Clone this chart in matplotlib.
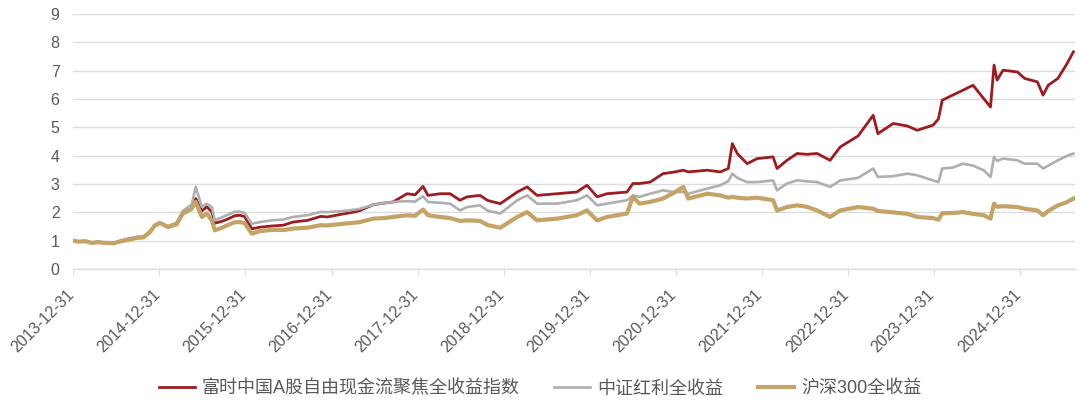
import pandas as pd
import matplotlib
matplotlib.use("Agg")
import matplotlib.pyplot as plt
import matplotlib.dates as mdates
import matplotlib.transforms as mtransforms

plt.rcParams['font.family'] = ['Liberation Sans', 'Noto Sans CJK SC', 'DejaVu Sans']

# values
dates = ["2013-12-31", "2014-01-20", "2014-02-20", "2014-03-20", "2014-04-15", "2014-05-05",
         "2014-06-20", "2014-07-16", "2014-08-20", "2014-09-26", "2014-10-25", "2014-11-20",
         "2014-12-11", "2015-01-02", "2015-02-05", "2015-03-14", "2015-04-09", "2015-05-17",
         "2015-06-03", "2015-06-29", "2015-07-20", "2015-08-10", "2015-08-23", "2015-09-20",
         "2015-10-13", "2015-11-15", "2015-12-07", "2015-12-28", "2016-01-27", "2016-03-03",
         "2016-04-20", "2016-06-10", "2016-07-20", "2016-09-20", "2016-11-15", "2016-12-12",
         "2017-02-20", "2017-04-10", "2017-05-01", "2017-06-25", "2017-08-10", "2017-09-18",
         "2017-11-16", "2017-12-20", "2018-01-23", "2018-02-13", "2018-04-05", "2018-05-18",
         "2018-06-29", "2018-07-29", "2018-09-22", "2018-10-25", "2018-12-17", "2019-02-27",
         "2019-04-10", "2019-05-22", "2019-08-15", "2019-11-07", "2019-12-20", "2020-02-01",
         "2020-03-14", "2020-06-07", "2020-07-02", "2020-07-30", "2020-09-13", "2020-11-07",
         "2020-12-20", "2021-02-01", "2021-02-22", "2021-05-14", "2021-07-08", "2021-08-11",
         "2021-08-28", "2021-09-18", "2021-10-30", "2021-12-11", "2022-02-17", "2022-03-06",
         "2022-04-17", "2022-05-30", "2022-07-10", "2022-08-23", "2022-10-17", "2022-11-29",
         "2023-02-13", "2023-04-18", "2023-05-08", "2023-07-12", "2023-09-10", "2023-10-22",
         "2023-12-28", "2024-01-20", "2024-02-05", "2024-03-20", "2024-05-02", "2024-06-15",
         "2024-07-30", "2024-08-28", "2024-09-12", "2024-09-25", "2024-10-20", "2024-12-20",
         "2025-01-20", "2025-03-15", "2025-04-08", "2025-04-30", "2025-06-10", "2025-07-15",
         "2025-08-15"]

ftse_fcf = [1.00, 0.97, 0.99, 0.93, 0.96, 0.94, 0.92, 0.99, 1.06, 1.12, 1.14, 1.30,
            1.52, 1.62, 1.48, 1.58, 1.95, 2.12, 2.49, 2.05, 2.20, 2.02, 1.62, 1.68,
            1.75, 1.88, 1.90, 1.85, 1.42, 1.48, 1.52, 1.55, 1.66, 1.72, 1.86, 1.84,
            1.95, 2.02, 2.07, 2.27, 2.33, 2.37, 2.66, 2.62, 2.92, 2.60, 2.66, 2.66,
            2.43, 2.55, 2.60, 2.42, 2.31, 2.72, 2.90, 2.60, 2.66, 2.72, 2.96, 2.55,
            2.66, 2.72, 3.02, 3.02, 3.07, 3.37, 3.42, 3.49, 3.43, 3.49, 3.43, 3.55,
            4.43, 4.08, 3.72, 3.90, 3.96, 3.55, 3.84, 4.08, 4.05, 4.08, 3.84, 4.31,
            4.70, 5.43, 4.78, 5.14, 5.05, 4.90, 5.08, 5.30, 5.96, 6.14, 6.31, 6.49,
            6.02, 5.72, 7.20, 6.67, 7.02, 6.96, 6.73, 6.61, 6.14, 6.49, 6.73, 7.20,
            7.67]

csi_div = [1.00, 0.97, 0.99, 0.93, 0.96, 0.94, 0.92, 0.99, 1.07, 1.14, 1.16, 1.32,
           1.54, 1.64, 1.52, 1.64, 2.05, 2.28, 2.90, 2.20, 2.31, 2.19, 1.72, 1.82,
           1.90, 2.02, 2.03, 1.98, 1.60, 1.66, 1.72, 1.75, 1.84, 1.90, 2.02, 2.01,
           2.05, 2.10, 2.13, 2.27, 2.33, 2.37, 2.40, 2.38, 2.57, 2.37, 2.34, 2.31,
           2.07, 2.19, 2.25, 2.06, 1.96, 2.43, 2.60, 2.31, 2.31, 2.43, 2.60, 2.25,
           2.31, 2.43, 2.60, 2.55, 2.66, 2.78, 2.72, 2.72, 2.66, 2.84, 2.96, 3.10,
           3.37, 3.22, 3.07, 3.07, 3.13, 2.78, 3.02, 3.13, 3.10, 3.07, 2.90, 3.13,
           3.22, 3.55, 3.25, 3.28, 3.37, 3.31, 3.13, 3.07, 3.55, 3.58, 3.72, 3.65,
           3.49, 3.25, 3.96, 3.82, 3.90, 3.84, 3.72, 3.72, 3.55, 3.65, 3.84, 3.98,
           4.08]

hs300 = [1.00, 0.97, 0.98, 0.92, 0.95, 0.93, 0.91, 0.97, 1.03, 1.10, 1.12, 1.30,
         1.54, 1.63, 1.48, 1.58, 1.96, 2.13, 2.37, 1.84, 1.96, 1.72, 1.37, 1.45,
         1.54, 1.65, 1.66, 1.62, 1.25, 1.34, 1.38, 1.38, 1.43, 1.46, 1.55, 1.54,
         1.60, 1.64, 1.66, 1.78, 1.80, 1.84, 1.90, 1.88, 2.10, 1.90, 1.84, 1.80,
         1.70, 1.72, 1.70, 1.55, 1.46, 1.84, 2.01, 1.72, 1.78, 1.90, 2.07, 1.72,
         1.84, 1.96, 2.55, 2.31, 2.37, 2.49, 2.68, 2.90, 2.49, 2.66, 2.60, 2.52,
         2.55, 2.52, 2.49, 2.52, 2.43, 2.07, 2.19, 2.25, 2.20, 2.07, 1.84, 2.07,
         2.19, 2.13, 2.05, 2.00, 1.95, 1.84, 1.80, 1.74, 1.97, 1.98, 2.01, 1.95,
         1.90, 1.78, 2.31, 2.20, 2.22, 2.19, 2.13, 2.07, 1.90, 2.05, 2.25, 2.35,
         2.49]

labels = ["富时中国A股自由现金流聚焦全收益指数", "中证红利全收益", "沪深300全收益"]
colors = ["#9C1C20", "#AFAFAF", "#C4A466"]

x = pd.to_datetime(dates)
tick_dates = pd.to_datetime([f"{y}-12-31" for y in range(2013, 2025)])

fig = plt.figure(figsize=(10.8, 4.04), dpi=100)
ax = fig.add_axes([0.068, 0.334, 0.927, 0.631])

ax.plot(x, ftse_fcf, color=colors[0], lw=2.0, label=labels[0], zorder=3)
ax.plot(x, csi_div, color=colors[1], lw=1.9, label=labels[1], zorder=4)
ax.plot(x, hs300, color=colors[2], lw=3.0, label=labels[2], zorder=5)

ax.set_ylim(0, 9)
ax.set_yticks(range(0, 10))
ax.set_xlim(pd.Timestamp("2013-12-31"), pd.Timestamp("2025-08-20"))
ax.set_xticks(tick_dates)
ax.xaxis.set_major_formatter(mdates.DateFormatter("%Y-%m-%d"))

ax.grid(axis="y", color="#DCDCDC", lw=1.0)
ax.set_axisbelow(True)
for s in ["top", "right", "left"]:
    ax.spines[s].set_visible(False)
ax.spines["bottom"].set_color("#DCDCDC")
ax.spines["bottom"].set_linewidth(1.0)

ax.tick_params(axis="y", length=0, pad=10, labelsize=11.5, labelcolor="#595959")
ax.tick_params(axis="x", length=4, color="#DCDCDC", pad=9, labelsize=11.5, labelcolor="#595959")
shift = mtransforms.ScaledTranslation(-7 / 100, 0, fig.dpi_scale_trans)
for t in ax.get_xticklabels():
    t.set_rotation(45)
    t.set_ha("right")
    t.set_rotation_mode("anchor")
    t.set_transform(t.get_transform() + shift)

fig.legend(loc="center", bbox_to_anchor=(0.5, 15 / 404), ncol=3, frameon=False,
           fontsize=13, labelcolor="#595959", handlelength=2.0, handletextpad=0.4,
           columnspacing=1.9)

fig.savefig("out.png", dpi=100)
